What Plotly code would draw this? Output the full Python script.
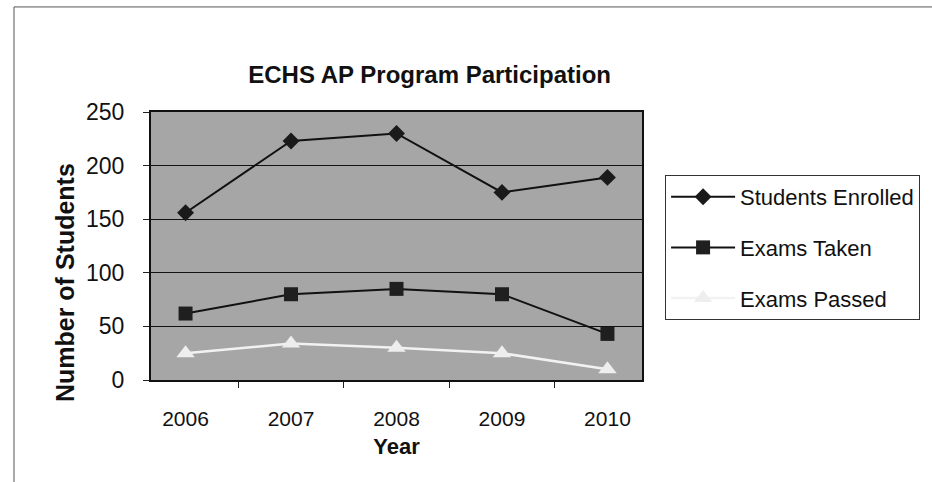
import plotly.graph_objects as go

# data
years = ["2006", "2007", "2008", "2009", "2010"]
students_enrolled = [156, 223, 230, 175, 189]
exams_taken = [62, 80, 85, 80, 43]
exams_passed = [25, 34, 30, 25, 10]

FONT = "Arial, Liberation Sans, sans-serif"

fig = go.Figure()

fig.add_trace(go.Scatter(
    x=years, y=students_enrolled, name="Students Enrolled", legendgroup="a",
    mode="lines+markers",
    line=dict(color="#111111", width=2),
    marker=dict(symbol="diamond", size=13, color="#1a1a1a"),
))
fig.add_trace(go.Scatter(
    x=years, y=exams_taken, name="Exams Taken", legendgroup="b",
    mode="lines+markers",
    line=dict(color="#111111", width=2),
    marker=dict(symbol="square", size=14, color="#1f1f1f"),
))
fig.add_trace(go.Scatter(
    x=years, y=exams_passed, name="Exams Passed", legendgroup="c",
    mode="lines+markers",
    line=dict(color="#f2f2f2", width=2.5),
    marker=dict(symbol="triangle-up", size=16, color="#eeeeee"),
))

fig.update_layout(
    width=932, height=482,
    margin=dict(l=151, r=290, t=112, b=102),
    paper_bgcolor="white",
    plot_bgcolor="#a6a6a6",
    font=dict(family=FONT, color="#111111", size=18),
    title=dict(text="<b>ECHS AP Program Participation</b>",
               font=dict(size=24, family=FONT, color="#111111"),
               xref="container", x=0.461, xanchor="center",
               yref="container", y=0.846, yanchor="middle"),
    showlegend=True,
    legend=dict(x=1.047, xanchor="left", y=0.765, yanchor="top",
                font=dict(size=22, family=FONT, color="#111111"),
                bgcolor="white", bordercolor="#333333", borderwidth=1,
                traceorder="grouped", tracegroupgap=19, itemwidth=64),
    # y title sits lower than the axis middle in the original, so use an annotation
    annotations=[dict(text="<b>Number of Students</b>", textangle=-90,
                      xref="paper", yref="paper", x=-0.175, y=0.362,
                      xanchor="center", yanchor="middle", showarrow=False,
                      font=dict(size=25, family=FONT, color="#111111"))],
    # outer chart-area border (left and top edges visible)
    shapes=[dict(type="rect", xref="paper", yref="paper",
                 x0=-0.279, x1=1.7, y0=-0.6, y1=1.392,
                 line=dict(color="#555555", width=1), layer="below")],
)

fig.update_xaxes(
    type="category", tickson="boundaries", ticks="outside", ticklen=6,
    tickcolor="#222222", showgrid=False,
    showline=True, linecolor="#111111", linewidth=2, mirror=True,
    tickfont=dict(size=21), ticklabelstandoff=19,
    title=dict(text="<b>Year</b>", font=dict(size=22), standoff=9),
)
fig.update_yaxes(
    range=[0, 250], dtick=50, ticks="outside", ticklen=6, tickcolor="#222222",
    showgrid=True, gridcolor="#111111", gridwidth=1,
    showline=True, linecolor="#111111", linewidth=2, mirror=True,
    zeroline=False,
    tickfont=dict(size=23), ticklabelstandoff=14,
)

# drop the browser's default body margin so the figure sits at the window origin
fig.write_html("out.html", config={"displayModeBar": False},
               post_script="document.body.style.margin='0';")
